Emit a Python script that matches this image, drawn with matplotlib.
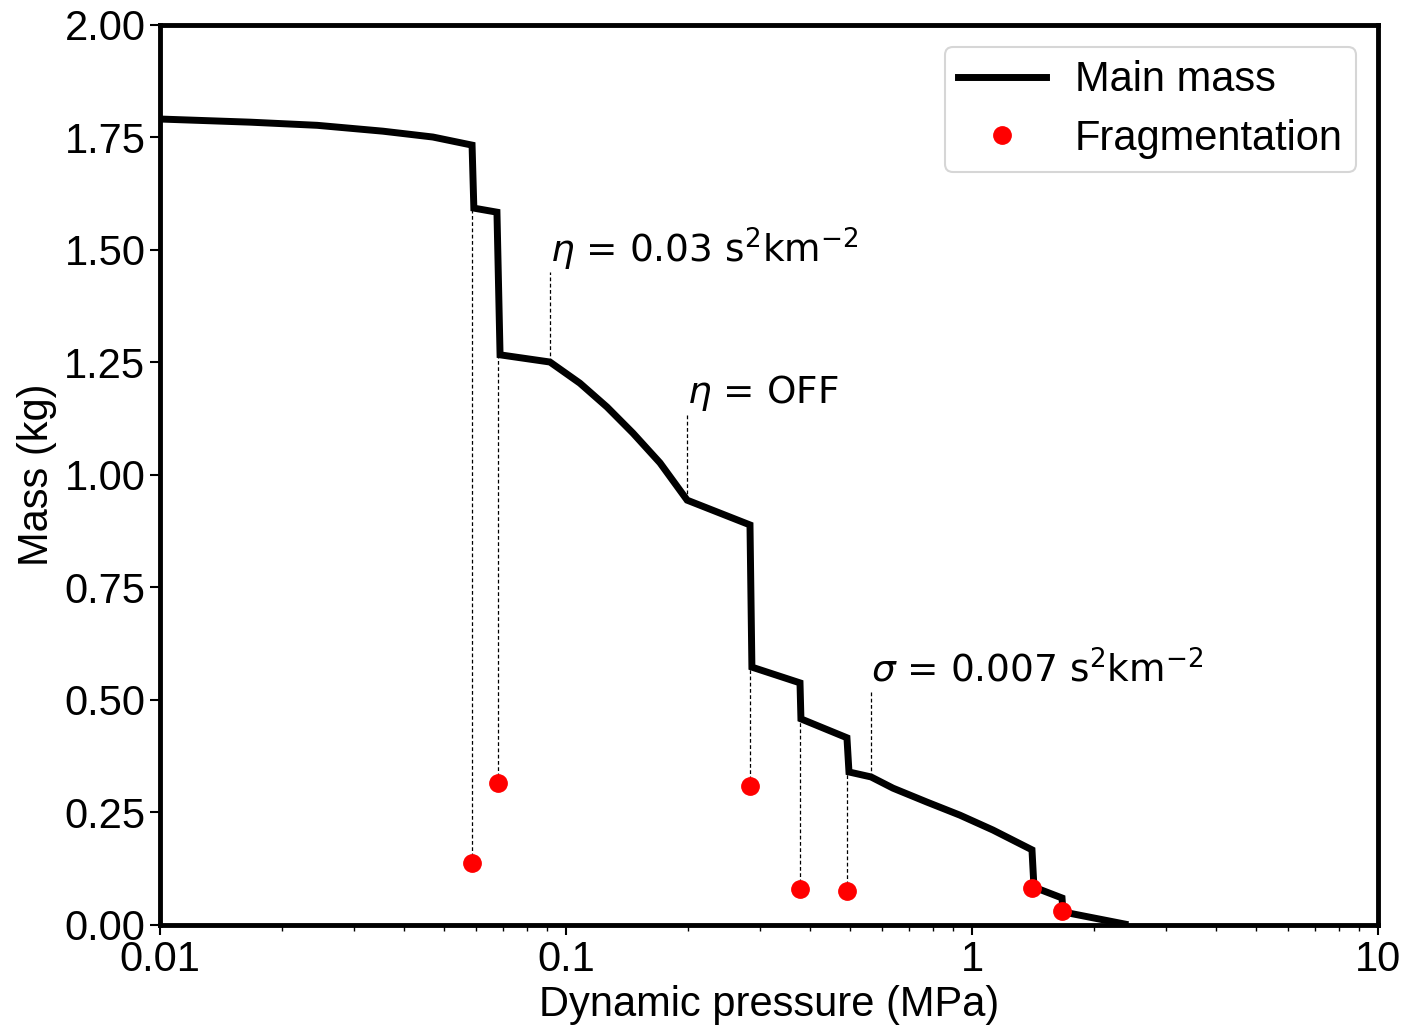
import matplotlib
matplotlib.use("Agg")
import matplotlib.pyplot as plt
from matplotlib.ticker import FixedLocator, FixedFormatter, MultipleLocator, LogLocator, NullFormatter

plt.rcParams['font.family'] = ['Liberation Sans', 'DejaVu Sans']
plt.rcParams['mathtext.fontset'] = 'dejavusans'

# Main mass curve
pressure = [0.01, 0.0167, 0.0244, 0.0354, 0.047, 0.0587, 0.0593, 0.0676, 0.0688,
            0.0913, 0.1082, 0.1262, 0.1462, 0.1704, 0.1988, 0.2839, 0.287,
            0.377, 0.379, 0.492, 0.4977, 0.564, 0.639, 0.775, 0.934, 1.126,
            1.405, 1.421, 1.666, 1.675, 2.38]
mass = [1.791, 1.784, 1.777, 1.764, 1.751, 1.733, 1.593, 1.584, 1.267,
        1.251, 1.204, 1.151, 1.093, 1.027, 0.944, 0.889, 0.573,
        0.538, 0.458, 0.416, 0.340, 0.329, 0.304, 0.273, 0.244, 0.211,
        0.167, 0.084, 0.060, 0.029, 0.002]

# Fragmentation points
frag_p = [0.0587, 0.0680, 0.2839, 0.377, 0.492, 1.405, 1.666]
frag_m = [0.138, 0.316, 0.309, 0.080, 0.076, 0.082, 0.031]
# top of dashed connector (mass just after each drop)
frag_top = [1.593, 1.267, 0.573, 0.458, 0.340, 0.084, 0.029]

# Annotations
ann_x = [0.0913, 0.1988, 0.564]
ann_base = [1.251, 0.944, 0.329]
ann_top = [1.450, 1.135, 0.520]
ann_text_y = [1.473, 1.160, 0.540]
ann_labels = [r'$\eta$ = 0.03 s$^2$km$^{-2}$', r'$\eta$ = OFF', r'$\sigma$ = 0.007 s$^2$km$^{-2}$']

x_ticks = [0.01, 0.1, 1, 10]
x_tick_labels = ['0.01', '0.1', '1', '10']

FS = 30

fig = plt.figure(figsize=(14.17, 10.32), dpi=100)
ax = fig.add_axes([0.1129, 0.1037, 0.8596, 0.8721])

for xp, yb, yt in zip(frag_p, frag_m, frag_top):
    ax.plot([xp, xp], [yb, yt], color='black', lw=0.9, ls=(0, (3, 2)), zorder=1)
for xp, yb, yt in zip(ann_x, ann_base, ann_top):
    ax.plot([xp, xp], [yb, yt], color='black', lw=0.9, ls=(0, (3, 2)), zorder=1)

ax.plot(pressure, mass, color='black', lw=5, label='Main mass', zorder=2,
        solid_joinstyle='miter')
ax.plot(frag_p, frag_m, 'o', color='red', ms=12.5, ls='none', label='Fragmentation', zorder=3)

for xt, yt, lab in zip(ann_x, ann_text_y, ann_labels):
    ax.text(xt, yt, lab, fontsize=27, family='DejaVu Sans', ha='left', va='baseline')

ax.set_xscale('log')
ax.set_xlim(0.01, 10)
ax.set_ylim(0, 2.0)
ax.xaxis.set_major_locator(FixedLocator(x_ticks))
ax.xaxis.set_major_formatter(FixedFormatter(x_tick_labels))
ax.xaxis.set_minor_locator(LogLocator(base=10, subs=range(2, 10)))
ax.xaxis.set_minor_formatter(NullFormatter())
ax.yaxis.set_major_locator(MultipleLocator(0.25))

ax.tick_params(axis='both', which='major', labelsize=FS, length=7, width=1.5, direction='out')
ax.tick_params(axis='x', which='minor', length=4, width=1.0)
for sp in ax.spines.values():
    sp.set_linewidth(3.5)

ax.set_xlabel('Dynamic pressure (MPa)', fontsize=FS, labelpad=4)
ax.set_ylabel('Mass (kg)', fontsize=FS, labelpad=5)

leg = ax.legend(loc='upper right', fontsize=FS, numpoints=1, frameon=True,
                borderpad=0.32, handlelength=2.1, handletextpad=0.7, labelspacing=0.45,
                borderaxespad=0, bbox_to_anchor=(0.982, 0.9756))
leg.get_frame().set_edgecolor('#cccccc')
leg.get_frame().set_linewidth(1.5)

fig.savefig('out.png', dpi=100)
